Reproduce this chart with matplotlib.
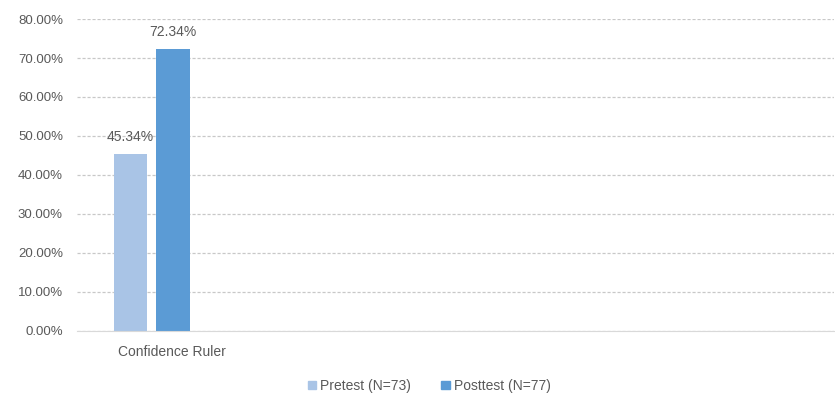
import matplotlib
matplotlib.use("Agg")
import matplotlib.pyplot as plt
from matplotlib.ticker import PercentFormatter
from matplotlib.patches import Patch

categories = ["Confidence Ruler"]
pretest = [0.4534]
posttest = [0.7234]
series_names = ["Pretest (N=73)", "Posttest (N=77)"]
colors = ["#A9C4E6", "#5B9BD5"]

plt.rcParams['font.family'] = ['Liberation Sans', 'DejaVu Sans']
text_col = "#595959"

fig = plt.figure(figsize=(8.35, 4.05), dpi=100)
ax = fig.add_axes([0.092, 0.183, 0.907, 0.770])

width = 0.22
xs = list(range(len(categories)))
b1 = ax.bar([x - 0.145 for x in xs], pretest, width, color=colors[0], zorder=3)
b2 = ax.bar([x + 0.135 for x in xs], posttest, width, color=colors[1], zorder=3)

for bars, vals in ((b1, pretest), (b2, posttest)):
    for rect, v in zip(bars, vals):
        ax.annotate("%.2f%%" % (v * 100), (rect.get_x() + rect.get_width() / 2, v),
                    xytext=(0, 12), textcoords="offset points", ha="center", va="center",
                    fontsize=10, color=text_col)

ax.set_ylim(0, 0.8)
ax.set_xlim(-0.5, 4.5)
ax.set_yticks([i / 10 for i in range(9)])
ax.yaxis.set_major_formatter(PercentFormatter(1.0, decimals=2))
ax.tick_params(axis='y', length=0, labelsize=9.5, labelcolor=text_col, pad=10)
ax.set_xticks([])
for i, c in enumerate(categories):
    ax.text(i + 0.13, -0.055, c, ha="center", va="center", fontsize=10, color=text_col)

ax.grid(axis='y', color="#C8C8C8", linestyle=(0, (2.5, 1.5)), linewidth=0.9, zorder=0)
for s in ax.spines.values():
    s.set_visible(False)
ax.spines['bottom'].set_visible(True)
ax.spines['bottom'].set_color("#D9D9D9")
ax.spines['bottom'].set_zorder(4)

handles = [Patch(color=colors[0], label=series_names[0]), Patch(color=colors[1], label=series_names[1])]
leg = fig.legend(handles=handles, loc="center", bbox_to_anchor=(0.514, 0.047), ncol=2, frameon=False,
                 fontsize=10, handlelength=0.6, handleheight=0.6, handletextpad=0.3, columnspacing=2.2)
for t in leg.get_texts():
    t.set_color(text_col)

fig.savefig("out.png", dpi=100)
